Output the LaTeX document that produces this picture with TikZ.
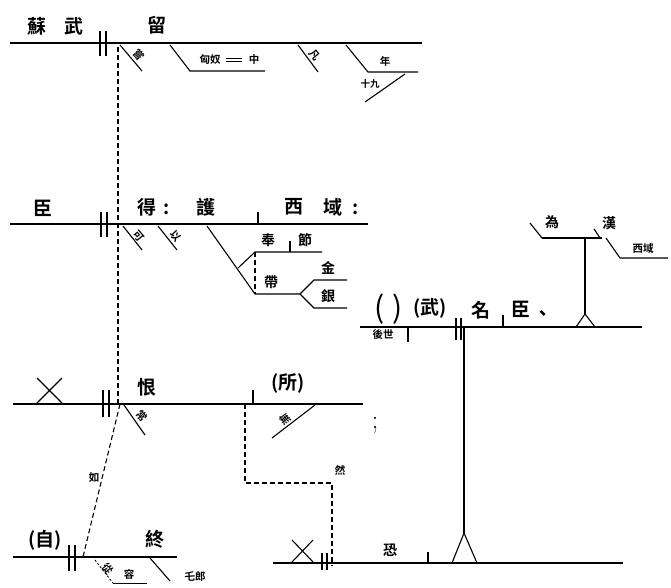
\documentclass[tikz,border=0pt]{standalone}
\usepackage{fontspec}
\newfontfamily\cjk{Noto Sans CJK TC}[BoldFont={Noto Sans CJK TC Bold}]
\usetikzlibrary{arrows.meta,positioning}

\begin{document}
\begin{tikzpicture}[
    x=1pt,
    y=-1pt,
    mainline/.style={draw=black, line width=1.5pt},
    modline/.style={draw=black, line width=1.1pt},
    thinline/.style={draw=black, line width=0.8pt},
    linkline/.style={draw=black, line width=1.1pt, dash pattern=on 5pt off 3pt},
    dotline/.style={draw=black, line width=0.9pt, dash pattern=on 2pt off 2pt},
    bigword/.style={font=\cjk\bfseries\fontsize{19}{19}\selectfont, inner sep=0pt},
    midword/.style={font=\cjk\bfseries\fontsize{14}{14}\selectfont, inner sep=0pt},
    smallword/.style={font=\cjk\bfseries\fontsize{10.5}{10.5}\selectfont, inner sep=0pt}
]
\useasboundingbox (0,0) rectangle (671,587);

% first clause
\draw[mainline] (10,43) -- (422,43);
\draw[modline] (100,31) -- (100,56) (106,31) -- (106,56);
\node[bigword] (su) at (37,26) {蘇};
\node[bigword] (wu) at (74,26) {武};
\node[bigword] (liu) at (157,25) {留};
\draw[modline] (120,45) -- (142,71);
\node[smallword,rotate=-50] (chang) at (139,55) {嘗};
\draw[modline] (170,45) -- (190,71) -- (265,71);
\node[smallword] (xiongnu) at (210,60) {匈奴};
\draw[thinline] (226,58) -- (242,58) (226,61) -- (242,61);
\node[smallword] (zhong) at (254,60) {中};
\draw[modline] (298,45) -- (318,72);
\node[smallword,rotate=-50] (fan) at (315,55) {凡};
\draw[modline] (346,45) -- (368,72) -- (418,72);
\node[smallword] (nian) at (385,61) {年};
\draw[modline] (405,74) -- (365,102);
\node[font=\cjk\bfseries\fontsize{9.5}{9.5}\selectfont, inner sep=0pt] (shijiu) at (370,84) {十九};

% second clause
\draw[mainline] (10,224) -- (368,224);
\draw[modline] (101,212) -- (101,237) (107,212) -- (107,237);
\node[bigword] (chen) at (43,208) {臣};
\node[bigword] (de) at (147,207) {得};
\node[bigword] (colona) at (167,209) {:};
\node[bigword] (hu) at (206,207) {護};
\draw[modline] (258,212) -- (258,224);
\node[bigword] (xi) at (294,207) {西};
\node[bigword] (yu) at (333,207) {域};
\node[bigword] (colonb) at (356,209) {:};
\draw[modline] (123,226) -- (142,250);
\node[smallword,rotate=-50] (ke) at (139,236) {可};
\draw[modline] (158,226) -- (177,250);
\node[smallword,rotate=-50] (yi) at (176,236) {以};
\draw[modline] (207,226) -- (255,294) -- (300,294);
\draw[modline] (238,268) -- (255,252) -- (322,252);
\draw[linkline] (255,252) -- (255,294);
\node[midword] (feng) at (268,240) {奉};
\draw[modline] (290,241) -- (290,252);
\node[midword] (jie) at (305,240) {節};
\node[midword] (dai) at (271,282) {帶};
\draw[modline] (300,294) -- (314,280) -- (347,280);
\draw[modline] (300,294) -- (314,308) -- (347,308);
\node[midword] (jin) at (328,268) {金};
\node[midword] (yin) at (328,296) {銀};

% right clause
\draw[mainline] (360,327) -- (642,327);
\node[font=\cjk\fontsize{30}{30}\selectfont, inner sep=0pt] (kong) at (389,309) {(\hspace{8pt})};
\node[bigword] (wub) at (430,308) {(武)};
\draw[modline] (456,318) -- (456,340) (461,318) -- (461,340);
\node[bigword] (ming) at (481,310) {名};
\draw[modline] (503,315) -- (503,327);
\node[bigword] (chenb) at (521,309) {臣};
\node[bigword] (dun) at (543,316) {、};
\node[smallword] (houshi) at (383,335) {後世};
\draw[modline] (408,327) -- (408,342);
\draw[modline] (585,238) -- (585,314);
\draw[modline] (576,327) -- (585,314) -- (595,327);
\draw[modline] (542,238) -- (602,238);
\draw[modline] (542,238) -- (530,223);
\node[midword] (wei) at (552,222) {為};
\draw[modline] (600,238) -- (594,229);
\node[midword] (han) at (609,223) {漢};
\draw[modline] (606,238) -- (620,258) -- (668,258);
\node[smallword] (xiyu) at (643,249) {西域};

% third clause
\draw[mainline] (13,404) -- (363,404);
\draw[modline] (37,378) -- (62,403) (62,378) -- (37,403);
\draw[modline] (103,390) -- (103,417) (109,390) -- (109,417);
\node[bigword] (hen) at (147,387) {恨};
\draw[modline] (124,405) -- (145,435);
\node[smallword,rotate=-50] (changb) at (142,416) {常};
\draw[modline] (253,390) -- (253,404);
\node[bigword] (suo) at (288,383) {(所)};
\draw[modline] (315,405) -- (272,438);
\node[smallword,rotate=37] (wu3) at (285,419) {無};
\node[font=\fontsize{26}{26}\selectfont, inner sep=0pt] (semi) at (375,425) {;};
\draw[linkline] (118,47) -- (118,404);
\draw[linkline] (120,404) -- (83,557);
\node[smallword] (ru) at (94,478) {如};
\draw[linkline] (245,404) -- (245,483) -- (332,483) -- (332,566);
\node[smallword] (ran) at (340,470) {然};

% fourth clause
\draw[mainline] (13,557) -- (177,557);
\node[bigword] (zi) at (45,540) {(自)};
\draw[modline] (69,545) -- (69,571) (75,545) -- (75,571);
\node[bigword] (zhongb) at (155,539) {終};
\draw[modline] (150,558) -- (170,581);
\node[smallword] (langguan) at (195,576) {乇郎};
\draw[dotline] (95,560) -- (113,583);
\draw[thinline] (113,583) -- (147,583);
\node[smallword,rotate=-50] (cong) at (108,569) {從};
\node[smallword] (rong) at (129,574) {容};

% fifth clause
\draw[modline] (273,563) -- (623,563);
\draw[modline] (292,540) -- (313,562) (313,540) -- (292,562);
\draw[modline] (322,553) -- (322,570) (327,553) -- (327,570);
\node[midword] (kongb) at (390,550) {恐};
\draw[modline] (428,552) -- (428,563);
\draw[modline] (464,327) -- (464,533);
\draw[modline] (452,563) -- (464,533) -- (477,563);

\end{tikzpicture}
\end{document}
